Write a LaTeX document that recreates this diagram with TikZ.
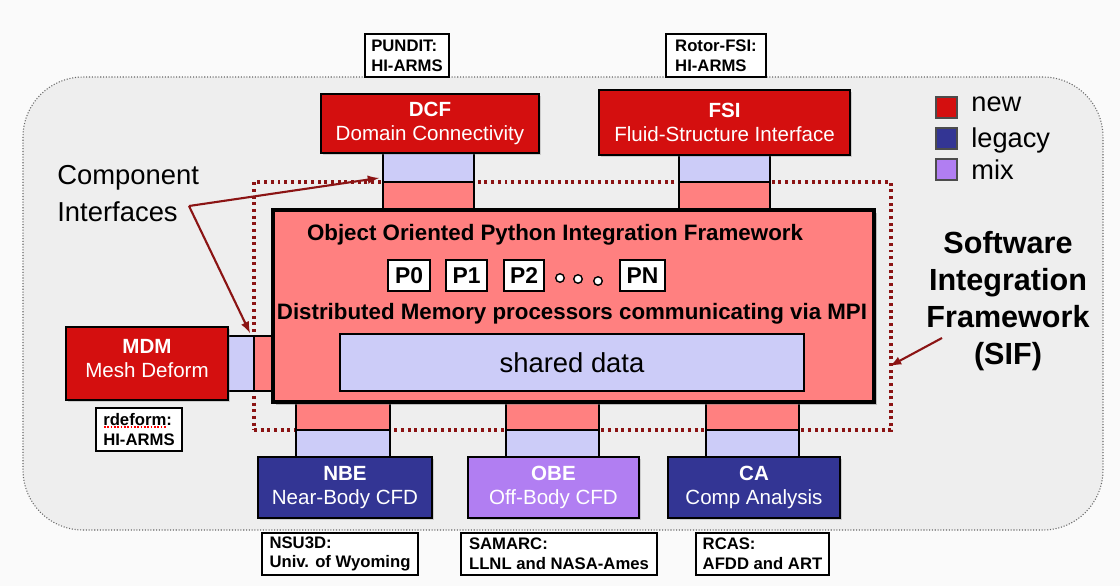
\documentclass[tikz,border=0pt]{standalone}
\usepackage{fontspec}
\setmainfont{Liberation Sans}
\usetikzlibrary{fit,shadows}

\definecolor{newred}{RGB}{212,15,15}
\definecolor{legacyblue}{RGB}{51,53,148}
\definecolor{mixviolet}{RGB}{177,126,242}
\definecolor{lavender}{RGB}{204,204,248}
\definecolor{salmon}{RGB}{255,128,128}
\definecolor{darkred}{RGB}{139,20,20}
\definecolor{panelgray}{RGB}{238,238,238}

\tikzset{
  comp/.style={draw=black, line width=1pt, inner sep=0pt,
    drop shadow={shadow xshift=1pt, shadow yshift=-1pt, opacity=0.3}},
  comptext/.style={text=white, align=center, font=\fontsize{11.7}{13.8}\selectfont},
  newcomp/.style={comp, fill=newred},
  legacycomp/.style={comp, fill=legacyblue},
  mixcomp/.style={comp, fill=mixviolet},
  ifup/.style={draw=black, line width=0.8pt, fill=lavender, inner sep=0pt},
  ifdown/.style={draw=black, line width=0.8pt, fill=salmon, inner sep=0pt},
  tag/.style={draw=black, line width=0.8pt, fill=white, inner sep=0pt},
  tagtext/.style={align=left, inner sep=0pt, font=\bfseries\fontsize{9.5}{11.2}\selectfont},
  proc/.style={draw=black, line width=1pt, fill=white, inner sep=0pt},
  proctext/.style={inner sep=0pt, font=\bfseries\fontsize{13}{15}\selectfont},
  dot/.style={circle, draw=black, line width=0.8pt, fill=white, minimum size=0.17cm, inner sep=0pt},
  legkey/.style={draw=black!70, line width=0.6pt, inner sep=0pt},
  legtext/.style={anchor=west, inner sep=0pt, font=\fontsize{15.5}{18}\selectfont},
  callout/.style={->, draw=darkred, line width=1.2pt},
}

\begin{document}
\begin{tikzpicture}[x=0.02cm, y=-0.02cm, >=latex]
	\useasboundingbox[fill=black!2] (0,0) rectangle (1120,586);

	% panel of the framework
	\node[fit={(23,77) (1103,530)}, inner sep=0pt, fill=panelgray, draw=black!60,
	      densely dotted, line width=0.6pt, rounded corners=1.2cm] (panel) {};

	% origin of the codes
	\node[tag, fit={(365,34) (449,77)}, label={[tagtext]center:{PUNDIT:\\HI-ARMS}}] (pundit) {};
	\node[tag, fit={(666,34) (766,77)}, label={[tagtext]center:{Rotor-FSI:\\HI-ARMS}}] (rotor) {};
	\node[tag, fit={(96,408) (182,451)}, label={[tagtext]center:{rdeform:\\HI-ARMS}}] (rdeform) {};
	\draw[red, densely dotted, line width=0.9pt] (104,427) -- (167,427);
	\node[tag, fit={(262,533) (418,575)}, label={[tagtext]center:{NSU3D:\\Univ. of Wyoming}}] (nsu) {};
	\node[tag, fit={(461,533) (657,575)}, label={[tagtext]center:{SAMARC:\\LLNL and NASA-Ames}}] (samarc) {};
	\node[tag, fit={(696,533) (829,575)}, label={[tagtext]center:{RCAS:\\AFDD and ART}}] (rcas) {};

	% dotted frame of the SIF
	\node[fit={(254,182) (891,430)}, inner sep=0pt, draw=darkred, line width=1.9pt,
	      dash pattern=on 1.7pt off 2.1pt] (frame) {};

	% component interfaces
	\node[ifup, fit={(383,153) (474,182)}] (dcfup) {};
	\node[ifdown, fit={(383,182) (474,210)}] (dcfdown) {};
	\node[ifup, fit={(679,155) (770,182)}] (fsiup) {};
	\node[ifdown, fit={(679,182) (770,210)}] (fsidown) {};
	\node[ifup, fit={(228,336) (254,391)}] (mdmup) {};
	\node[ifdown, fit={(254,336) (273,391)}] (mdmdown) {};
	\node[ifdown, fit={(296,402) (390,430)}] (nbedown) {};
	\node[ifup, fit={(296,430) (390,457)}] (nbeup) {};
	\node[ifdown, fit={(506,402) (599,430)}] (obedown) {};
	\node[ifup, fit={(506,430) (599,457)}] (obeup) {};
	\node[ifdown, fit={(706,402) (799,430)}] (cadown) {};
	\node[ifup, fit={(706,430) (799,457)}] (caup) {};

	% components
	\node[newcomp, fit={(321,94) (539,153)},
	      label={[comptext]center:{\textbf{DCF}\\Domain Connectivity}}] (dcf) {};
	\node[newcomp, fit={(599,90) (850,155)},
	      label={[comptext]center:{\textbf{FSI}\\Fluid-Structure Interface}}] (fsi) {};
	\node[newcomp, fit={(66,327) (228,400)},
	      label={[comptext, yshift=0.1cm]center:{\textbf{MDM}\\Mesh Deform}}] (mdm) {};
	\node[legacycomp, fit={(258,457) (432,518)},
	      label={[comptext]center:{\textbf{NBE}\\Near-Body CFD}}] (nbe) {};
	\node[mixcomp, fit={(468,457) (639,518)},
	      label={[comptext]center:{\textbf{OBE}\\Off-Body CFD}}] (obe) {};
	\node[legacycomp, fit={(668,457) (840,518)},
	      label={[comptext]center:{\textbf{CA}\\Comp Analysis}}] (ca) {};

	% python framework
	\node[fit={(273,210) (874,402)}, inner sep=0pt, fill=salmon, draw=black, line width=2.2pt,
	      drop shadow={shadow xshift=1.5pt, shadow yshift=-1.5pt, opacity=0.45}] (pyframe) {};
	\node[anchor=base, font=\bfseries\fontsize{12.7}{15}\selectfont] (pytitle) at (555,240)
	      {Object Oriented Python Integration Framework};
	\node[proc, fit={(388,260) (430,291)}, label={[proctext]center:P0}] (p0) {};
	\node[proc, fit={(446,260) (487,291)}, label={[proctext]center:P1}] (p1) {};
	\node[proc, fit={(504,260) (544,291)}, label={[proctext]center:P2}] (p2) {};
	\node[dot] (d1) at (560,278) {};
	\node[dot] (d2) at (578,279) {};
	\node[dot] (d3) at (598,281) {};
	\node[proc, fit={(620,260) (665,291)}, label={[proctext]center:PN}] (pn) {};
	\node[anchor=base, font=\bfseries\fontsize{12.7}{15}\selectfont] (mpi) at (572,319)
	      {Distributed Memory processors communicating via MPI};
	\node[fit={(340,334) (804,391)}, inner sep=0pt, fill=lavender, draw=black, line width=1pt,
	      label={[font=\fontsize{15.6}{18}\selectfont]center:shared data}] (shared) {};

	% legend
	\node[legkey, fill=newred, fit={(936,97) (957,118)}] (knew) {};
	\node[legkey, fill=legacyblue, fit={(936,128) (957,149)}] (klegacy) {};
	\node[legkey, fill=mixviolet, fit={(936,159) (957,180)}] (kmix) {};
	\node[legtext] (tnew) at (971,104) {new};
	\node[legtext] (tlegacy) at (971,140) {legacy};
	\node[legtext] (tmix) at (971,170) {mix};

	% labels and callouts
	\node[anchor=west, inner sep=0pt, align=left, font=\fontsize{15.6}{21}\selectfont] (ci) at (57,194)
	      {Component\\Interfaces};
	\coordinate (civertex) at (189,206);
	\coordinate (cidcf) at (379,178);
	\coordinate (cimdm) at (250,333);
	\draw[callout] (civertex) -- (cidcf);
	\draw[callout] (civertex) -- (cimdm);

	\node[align=center, font=\bfseries\fontsize{17.4}{21}\selectfont] (sif) at (1008,301)
	      {Software\\Integration\\Framework\\(SIF)};
	\coordinate (sifstart) at (942,338);
	\coordinate (siftip) at (890,366);
	\draw[callout] (sifstart) -- (siftip);
\end{tikzpicture}
\end{document}
